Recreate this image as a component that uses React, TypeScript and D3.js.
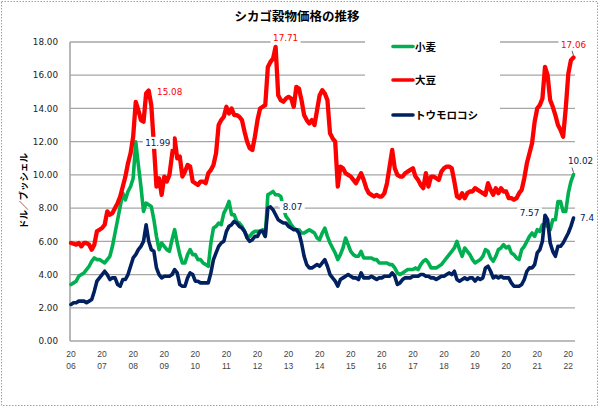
import React from 'react';
import * as d3 from 'd3';

// ---- Data (monthly, Jan 2006 – Mar 2022), USD per bushel ----
const yearLabels = ['2006','2007','2008','2009','2010','2011','2012','2013','2014','2015','2016','2017','2018','2019','2020','2021','2022'];

const soybean = [
  5.9, 5.85, 5.8, 5.9, 5.7, 5.9, 5.9, 5.8, 5.5, 5.8, 6.6, 6.7,
  6.8, 7.0, 7.8, 7.6, 7.7, 8.0, 8.3, 8.7, 9.3, 9.9, 10.7, 11.3,
  12.3, 14.4, 13.9, 13.3, 13.2, 14.9, 15.08, 14.2, 11.8, 9.3, 9.8, 8.8,
  9.9, 9.6, 10.0, 11.2, 12.2, 11.0, 11.1, 9.9, 10.2, 10.6, 10.5, 9.6,
  9.5, 9.4, 9.6, 9.6, 9.5, 10.1, 10.3, 10.6, 11.3, 13.0, 13.3, 13.5,
  14.1, 13.7, 14.0, 13.6, 13.6, 13.5, 13.3, 12.6, 12.0, 11.6, 11.5, 12.3,
  13.3, 14.0, 14.1, 14.2, 16.5, 16.8, 17.0, 17.71, 14.8, 14.5, 14.4, 14.6,
  14.7, 14.6, 14.1, 15.3, 15.2, 14.5, 13.6, 13.3, 13.1, 13.3, 13.0, 13.9,
  14.8, 15.1, 14.9, 14.5, 12.5, 12.2, 12.0, 9.3, 10.5, 10.4, 10.1, 10.0,
  9.9, 9.7, 9.5, 9.8, 10.1, 9.7, 9.2, 8.9, 8.8, 8.7, 8.8, 8.7,
  8.7, 8.9, 9.5, 10.5, 11.5, 10.4, 10.0, 9.9, 9.9, 10.1, 10.2, 10.3,
  10.4, 9.9, 9.7, 9.4, 9.2, 10.1, 9.3, 9.9, 9.9, 9.8, 9.7, 10.2,
  10.4, 10.5, 10.5, 10.4, 9.6, 8.7, 8.6, 8.9, 8.6, 8.9, 9.0, 9.0,
  9.2, 9.1, 9.0, 8.9, 8.8, 9.5, 9.1, 8.8, 9.2, 8.9, 9.2, 9.0,
  9.0, 8.6, 8.6, 8.5, 8.6, 8.9, 9.1, 9.8, 10.7, 11.3, 11.9, 13.2,
  14.0, 14.2, 14.6, 16.5, 16.0, 14.5, 14.1, 13.6, 13.0, 12.7, 12.3, 14.0,
  16.1, 16.9, 17.06,
];

const wheat = [
  3.4, 3.5, 3.6, 3.9, 4.0, 4.1, 4.3, 4.5, 4.8, 5.0, 4.9, 4.9,
  4.8, 4.7, 4.9, 5.1, 5.7, 6.5, 7.3, 8.1, 8.9, 8.5, 9.0, 9.3,
  9.8, 11.99, 10.6, 9.3, 7.8, 8.3, 8.2, 8.1, 7.3, 6.3, 5.5, 5.9,
  5.7, 5.5, 5.4, 6.1, 6.7, 5.9, 5.2, 4.7, 4.7, 5.2, 5.5, 5.2,
  5.2, 4.9, 4.9, 4.7, 4.6, 4.5, 5.9, 6.8, 6.9, 7.1, 7.0, 7.7,
  8.0, 8.4, 7.6, 7.6, 7.2, 7.1, 6.9, 6.6, 6.3, 6.3, 6.5, 6.6,
  6.6, 6.6, 6.7, 6.3, 8.8, 8.9, 9.0, 8.8, 8.8, 8.7, 8.0, 7.5,
  7.3, 7.0, 6.8, 6.7, 6.7, 6.5, 6.5, 6.6, 6.7, 6.6, 6.5, 6.2,
  6.1, 6.5, 6.8, 6.3, 5.9, 5.6, 5.3, 4.9, 5.2, 5.6, 6.2, 5.8,
  5.4, 5.2, 5.1, 5.1, 5.4, 5.0, 5.0, 5.0, 5.0, 4.9, 4.9, 4.7,
  4.7, 4.7, 4.7, 4.6, 4.6, 4.4, 4.1, 4.0, 4.1, 4.2, 4.3, 4.3,
  4.3, 4.4, 4.3, 4.6, 4.8, 4.9, 4.7, 4.4, 4.4, 4.4, 4.5, 4.6,
  4.8, 5.0, 5.2, 5.4, 5.6, 6.0, 5.5, 5.1, 5.6, 5.4, 5.2, 4.9,
  4.7, 4.8, 4.9, 5.1, 5.5, 5.4, 5.0, 4.8, 5.1, 5.5, 5.6, 5.8,
  5.6, 5.7, 5.3, 5.2, 5.0, 4.9, 5.5, 5.7, 6.0, 6.3, 6.5, 6.3,
  6.7, 6.6, 7.0, 7.0, 6.9, 6.7, 7.3, 7.3, 8.4, 8.4, 7.8, 7.8,
  8.9, 9.6, 10.02,
];

const corn = [
  2.2, 2.3, 2.3, 2.4, 2.4, 2.4, 2.3, 2.4, 2.5, 3.0, 3.6, 3.8,
  4.0, 4.2, 4.0, 3.7, 3.8, 3.8, 3.4, 3.3, 3.7, 3.7, 4.0, 4.5,
  5.0, 5.2, 5.5, 5.7, 6.0, 7.0, 6.0, 5.5, 5.4, 4.4, 4.0, 3.8,
  3.9, 3.9, 3.9, 4.0, 4.3, 4.1, 3.4, 3.3, 3.3, 3.8, 4.1, 4.0,
  3.6, 3.6, 3.5, 3.5, 3.5, 3.5, 4.1, 4.9, 5.3, 5.7, 5.9, 6.0,
  6.6, 6.9, 7.0, 7.2, 7.1, 6.9, 6.8, 6.6, 6.2, 6.0, 6.1, 6.3,
  6.3, 6.6, 6.6, 6.3, 8.0, 8.07, 7.9, 7.6, 7.3, 7.2, 7.1, 7.1,
  6.9, 6.8, 6.7, 6.7, 6.5, 5.9, 5.1, 4.6, 4.4, 4.4, 4.5, 4.6,
  4.5, 4.7, 4.9, 4.5, 4.0, 3.8, 3.6, 3.3, 3.7, 3.8, 3.9, 4.0,
  3.9, 3.8, 3.8, 3.7, 4.1, 3.8, 3.8, 3.8, 3.9, 3.8, 3.7, 3.8,
  3.8, 3.9, 3.9, 3.9, 4.1, 3.9, 3.4, 3.5, 3.7, 3.8, 3.8, 3.8,
  3.9, 3.9, 3.9, 4.0, 4.0, 3.9, 3.9, 3.8, 3.8, 3.7, 3.8, 3.9,
  3.9, 4.0, 4.1, 4.0, 4.2, 3.7, 3.6, 3.7, 3.8, 3.7, 3.8, 3.8,
  3.6, 3.8, 3.7, 3.8, 4.4, 4.5, 4.2, 3.8, 3.9, 3.8, 3.9, 3.8,
  3.8, 3.8, 3.5, 3.3, 3.3, 3.3, 3.4, 3.7, 4.2, 4.4, 4.4, 4.6,
  5.3, 5.5, 6.0, 7.57, 7.3, 5.9, 5.4, 5.1, 5.7, 5.7, 5.9, 6.2,
  6.5, 6.9, 7.4,
];

const yTicks = [0, 2, 4, 6, 8, 10, 12, 14, 16, 18];

const seriesNames = ['小麦', '大豆', 'トウモロコシ'];
const seriesColors = ['#00B050', '#FF0000', '#002060'];
const seriesWidths = [3.6, 4.3, 3.6];
const seriesData = [wheat, soybean, corn];

// annotation: series index, point index, text, label colour, label offset
const annotations = [
  { s: 1, i: 30, text: '15.08', color: '#FF0000', dx: 21, dy: 4.5 },
  { s: 1, i: 79, text: '17.71', color: '#FF0000', dx: 10, dy: -6 },
  { s: 1, i: 194, text: '17.06', color: '#FF0000', dx: 0, dy: -10, lead: true },
  { s: 0, i: 25, text: '11.99', color: '#002060', dx: 22, dy: 4, dash: true },
  { s: 2, i: 77, text: '8.07', color: '#002060', dx: 22, dy: 3, dash: true },
  { s: 0, i: 194, text: '10.02', color: '#002060', dx: 7, dy: -10.5, lead: true },
  { s: 2, i: 183, text: '7.57', color: '#002060', dx: -15.5, dy: 1 },
  { s: 2, i: 194, text: '7.4', color: '#002060', dx: 13.5, dy: 3 },
];

export default function App() {
  const W = 600, H = 408;
  const plotL = 70, plotR = 575;
  const x = d3.scaleLinear().domain([0, soybean.length - 1]).range([71, 573.5]);
  const y = d3.scaleLinear().domain([0, 18]).range([341, 42]);
  const line = d3.line<number>().x((_, i) => x(i)).y(d => y(d));
  const numFont = '"DejaVu Sans", Verdana, sans-serif';
  const jpFont = '"Noto Sans CJK JP", sans-serif';

  return (
    <svg width={W} height={H} style={{ position: 'absolute', left: 0, top: 0, background: '#fff' }}>
      <rect x={0} y={0} width={W} height={H} fill="#fff" />
      <rect x={1.5} y={1.5} width={596} height={404} fill="none" stroke="#a0a0a0" strokeWidth={1} strokeDasharray="1.5 1.5" />

      {/* title */}
      <text x={297} y={21} textAnchor="middle" fontFamily={jpFont} fontWeight="bold" fontSize={12.5} fill="#000">シカゴ穀物価格の推移</text>

      {/* gridlines */}
      {yTicks.map(t => (
        <line key={t} x1={plotL} x2={plotR} y1={y(t)} y2={y(t)} stroke="#a6a6a6" strokeWidth={t === 0 ? 1.6 : 1.3} />
      ))}
      <line x1={plotL} x2={plotL} y1={y(18)} y2={y(0)} stroke="#a6a6a6" strokeWidth={1.6} />

      {/* y tick labels */}
      {yTicks.map(t => (
        <text key={t} x={58} y={y(t) + 3.2} textAnchor="end" fontFamily={numFont} fontSize={8.8} fill="#222">{t.toFixed(2)}</text>
      ))}

      {/* x tick labels */}
      {yearLabels.map((yr, k) => (
        <text key={yr} x={x(k * 12)} textAnchor="middle" fontFamily='"Liberation Sans", Arial, sans-serif' fontSize={8.5} fill="#444">
          <tspan x={x(k * 12)} y={357}>{yr.slice(0, 2)}</tspan>
          <tspan x={x(k * 12)} y={369}>{yr.slice(2)}</tspan>
        </text>
      ))}

      {/* y axis title */}
      <text transform="translate(23,191) rotate(-90)" textAnchor="middle" dominantBaseline="central" fontFamily={jpFont} fontWeight="bold" fontSize={9.5} fill="#000">ドル／ブッシェル</text>

      {/* legend background */}
      <rect x={365} y={30} width={135} height={96} fill="#fff" />
      {seriesNames.map((n, k) => {
        const ly = [46.5, 80, 115][k];
        return (
          <g key={n}>
            <line x1={393} x2={413} y1={ly} y2={ly} stroke={seriesColors[k]} strokeWidth={3.6} strokeLinecap="round" />
            <text x={415} y={ly + 4} fontFamily={jpFont} fontWeight="bold" fontSize={10.5} fill="#000">{n}</text>
          </g>
        );
      })}

      {/* series lines */}
      {seriesData.map((d, k) => (
        <path key={k} d={line(d) || ''} fill="none" stroke={seriesColors[k]} strokeWidth={seriesWidths[k]} strokeLinejoin="round" strokeLinecap="round" />
      ))}

      {/* annotations (with white label boxes, as in the original) */}
      {annotations.map((a, k) => {
        const px = x(a.i), py = y(seriesData[a.s][a.i]);
        const tw = a.text.length * 5.2 + 4;
        const lx = px + a.dx, ly = py + a.dy;
        return (
          <g key={k}>
            {a.lead && <line x1={px - 1.5} y1={py - 7} x2={px} y2={py - 2} stroke="#333" strokeWidth={0.8} />}
            {a.dash && <line x1={px + 4} y1={py} x2={px + 8} y2={py} stroke="#888" strokeWidth={0.8} />}
            <rect x={lx - tw / 2} y={ly - 9} width={tw} height={12} fill="#fff" />
            <text x={lx} y={ly} textAnchor="middle" fontFamily={numFont} fontSize={8.8} fill={a.color}>{a.text}</text>
          </g>
        );
      })}
    </svg>
  );
}
